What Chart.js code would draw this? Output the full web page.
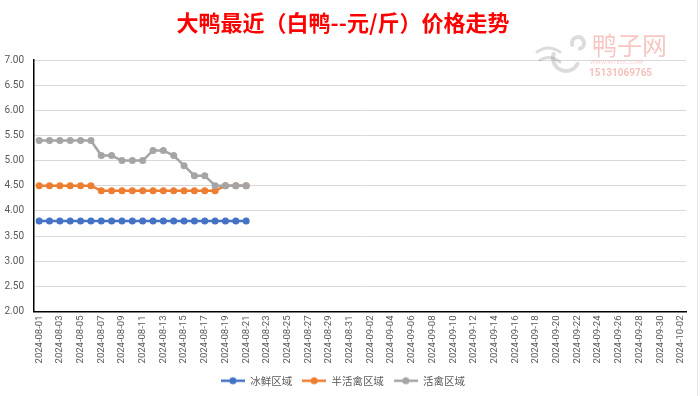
<!DOCTYPE html>
<html>
<head>
<meta charset="utf-8">
<script src="https://cdn.jsdelivr.net/npm/chart.js@4.4.1/dist/chart.umd.min.js"></script>
<style>
  html, body { margin: 0; padding: 0; background: #fff; }
  #wrap { width: 700px; height: 396px; position: relative; }
</style>
</head>
<body>
<div id="wrap"><canvas id="priceChart" width="700" height="396"></canvas></div>
<script>
// dates 2024-08-01 .. 2024-10-02
const dates = [
  '2024-08-01','2024-08-02','2024-08-03','2024-08-04','2024-08-05','2024-08-06','2024-08-07','2024-08-08',
  '2024-08-09','2024-08-10','2024-08-11','2024-08-12','2024-08-13','2024-08-14','2024-08-15','2024-08-16',
  '2024-08-17','2024-08-18','2024-08-19','2024-08-20','2024-08-21','2024-08-22','2024-08-23','2024-08-24',
  '2024-08-25','2024-08-26','2024-08-27','2024-08-28','2024-08-29','2024-08-30','2024-08-31','2024-09-01',
  '2024-09-02','2024-09-03','2024-09-04','2024-09-05','2024-09-06','2024-09-07','2024-09-08','2024-09-09',
  '2024-09-10','2024-09-11','2024-09-12','2024-09-13','2024-09-14','2024-09-15','2024-09-16','2024-09-17',
  '2024-09-18','2024-09-19','2024-09-20','2024-09-21','2024-09-22','2024-09-23','2024-09-24','2024-09-25',
  '2024-09-26','2024-09-27','2024-09-28','2024-09-29','2024-09-30','2024-10-01','2024-10-02'
];

// 元/斤, only 08-01 .. 08-21 have values
const frozen = [3.8,3.8,3.8,3.8,3.8,3.8,3.8,3.8,3.8,3.8,3.8,3.8,3.8,3.8,3.8,3.8,3.8,3.8,3.8,3.8,3.8];
const halfLive = [4.5,4.5,4.5,4.5,4.5,4.5,4.4,4.4,4.4,4.4,4.4,4.4,4.4,4.4,4.4,4.4,4.4,4.4,4.5,4.5,4.5];
const live = [5.4,5.4,5.4,5.4,5.4,5.4,5.1,5.1,5.0,5.0,5.0,5.2,5.2,5.1,4.9,4.7,4.7,4.5,4.5,4.5,4.5];

const seriesNames = ['冰鲜区域', '半活禽区域', '活禽区域'];
const seriesColors = ['#4472C4', '#ED7D31', '#A5A5A5'];

const numFont = "Roboto, 'Noto Sans CJK SC', sans-serif";
const cjkFont = "'Noto Sans CJK SC', sans-serif";

// legend marker: short line with a dot
function legendIcon(color) {
  const c = document.createElement('canvas');
  c.width = 24; c.height = 10;
  const g = c.getContext('2d');
  g.strokeStyle = color; g.lineWidth = 2.5;
  g.beginPath(); g.moveTo(0, 5); g.lineTo(24, 5); g.stroke();
  g.fillStyle = color;
  g.beginPath(); g.arc(12, 5, 3.5, 0, Math.PI * 2); g.fill();
  return c;
}
const icons = seriesColors.map(legendIcon);

// watermark + frame line
const extras = {
  id: 'extras',
  afterDraw(chart) {
    const ctx = chart.ctx;
    ctx.save();
    // bird logo, very faint
    ctx.strokeStyle = 'rgba(140,140,140,0.3)';
    ctx.lineWidth = 4;
    ctx.lineCap = 'round';
    ctx.beginPath();
    ctx.arc(566, 58, 13, Math.PI * 0.15, Math.PI * 1.1);
    ctx.stroke();
    ctx.beginPath();
    ctx.arc(578, 43, 6, Math.PI * 0.9, Math.PI * 2.4);
    ctx.stroke();
    ctx.lineWidth = 3;
    ctx.beginPath();
    ctx.moveTo(537, 52); ctx.quadraticCurveTo(548, 44, 560, 52);
    ctx.moveTo(540, 60); ctx.quadraticCurveTo(550, 54, 560, 62);
    ctx.stroke();
    // text
    ctx.textBaseline = 'middle';
    ctx.fillStyle = 'rgba(236,130,120,0.45)';
    ctx.font = "25px 'Noto Sans CJK SC', sans-serif";
    ctx.fillText('鸭子网', 592, 45);
    ctx.font = "6px Roboto, sans-serif";
    ctx.fillStyle = 'rgba(236,130,120,0.35)';
    ctx.fillText('WWW.INTEDC.COM', 590, 62);
    ctx.font = "bold 10px Roboto, sans-serif";
    ctx.fillStyle = 'rgba(236,130,120,0.5)';
    ctx.fillText('15131069765', 589, 73);
    ctx.strokeStyle = '#e6e6e6';
    ctx.lineWidth = 1;
    ctx.beginPath();
    ctx.moveTo(697.5, 0); ctx.lineTo(697.5, 396);
    ctx.stroke();
    ctx.restore();
  }
};

const ctxChart = document.getElementById('priceChart').getContext('2d');

const chartData = {
  labels: dates,
  datasets: [frozen, halfLive, live].map((vals, i) => ({
    label: seriesNames[i],
    data: vals,
    order: 2 - i, // later series drawn on top
    borderColor: seriesColors[i],
    backgroundColor: seriesColors[i],
    borderWidth: 2.5,
    pointRadius: 3.5,
    pointHoverRadius: 3.5,
    pointBorderWidth: 0,
    tension: 0
  }))
};

new Chart(ctxChart, {
  type: 'line',
  data: chartData,
  plugins: [extras],
  options: {
    responsive: false,
    animation: false,
    layout: { padding: { left: 0, right: 14, top: 0, bottom: 0 } },
    plugins: {
      tooltip: { enabled: false },
      title: {
        display: true,
        text: '大鸭最近（白鸭--元/斤）价格走势',
        color: '#FF0000',
        font: { family: cjkFont, size: 22, weight: 'bold' },
        padding: { top: 9, bottom: 24.6 }
      },
      legend: {
        position: 'bottom',
        labels: {
          usePointStyle: true,
          pointStyleWidth: 24,
          padding: 10,
          color: '#595959',
          font: { family: cjkFont, size: 10.5 },
          sort: (a, b) => a.datasetIndex - b.datasetIndex,
          generateLabels(chart) {
            const items = Chart.defaults.plugins.legend.labels.generateLabels(chart);
            items.forEach(it => { it.pointStyle = icons[it.datasetIndex]; });
            return items;
          }
        }
      }
    },
    scales: {
      x: {
        offset: true,
        grid: { display: false, drawTicks: false },
        border: { color: '#000', width: 1.5 },
        afterFit(scale) { scale.height = 54; },
        ticks: {
          autoSkip: false,
          minRotation: 90,
          maxRotation: 90,
          padding: 4,
          color: '#595959',
          font: { family: numFont, size: 9.5 },
          callback(val, idx) { return idx % 2 === 0 ? dates[idx] : ''; }
        }
      },
      y: {
        min: 2,
        max: 7,
        grid: { color: '#d9d9d9', lineWidth: 1, drawTicks: false },
        border: { color: '#000', width: 1.5 },
        afterFit(scale) { scale.width = 34; },
        ticks: {
          stepSize: 0.5,
          padding: 10,
          color: '#595959',
          font: { family: numFont, size: 10 },
          callback(v) { return v.toFixed(2); }
        }
      }
    }
  }
});
</script>
</body>
</html>
